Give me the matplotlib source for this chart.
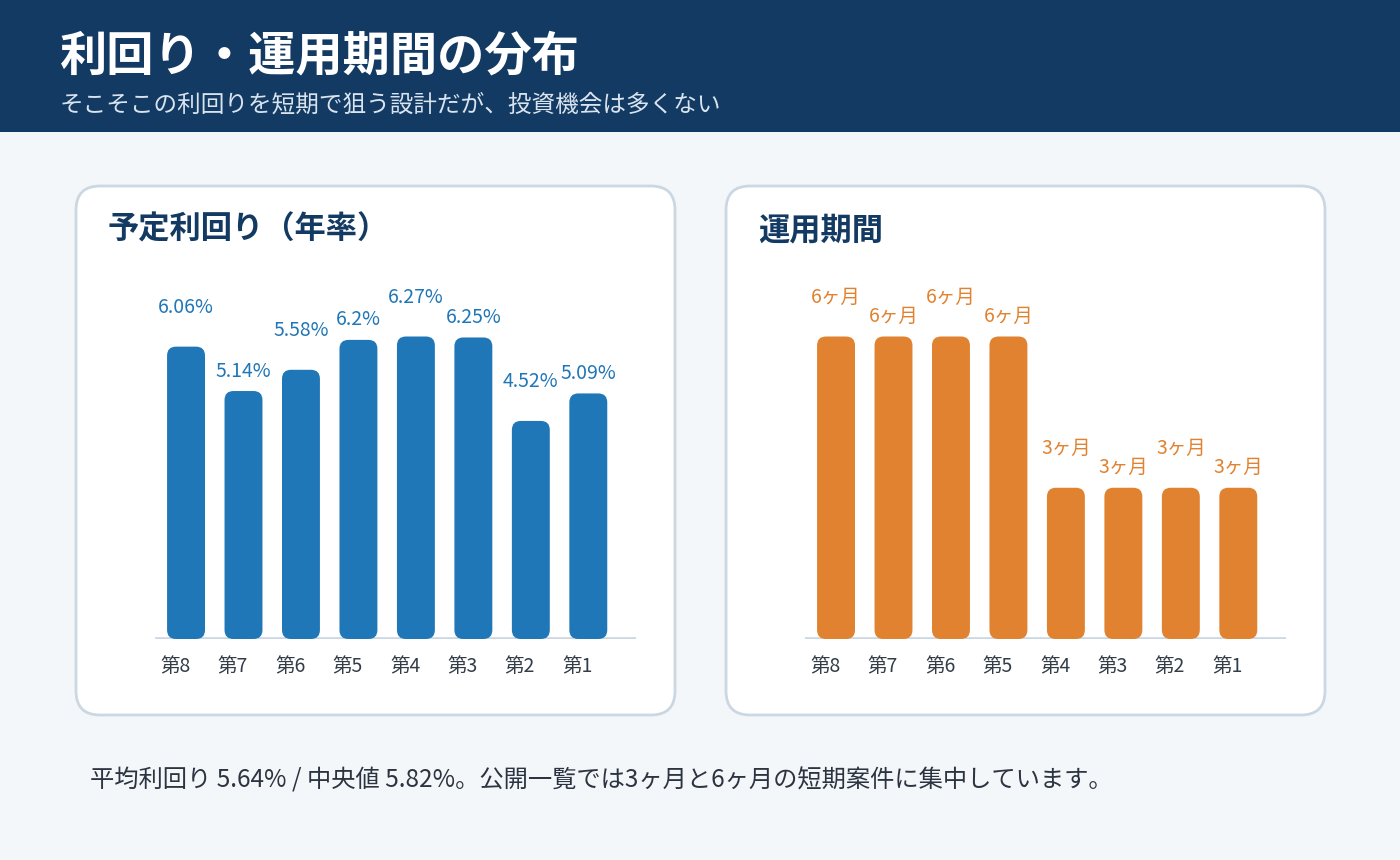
import matplotlib
matplotlib.use("Agg")
import matplotlib.pyplot as plt
from matplotlib.patches import FancyBboxPatch, Rectangle

plt.rcParams["font.family"] = ["Noto Sans CJK JP", "DejaVu Sans"]

# data
rounds = ["第8", "第7", "第6", "第5", "第4", "第3", "第2", "第1"]
yields = [6.06, 5.14, 5.58, 6.2, 6.27, 6.25, 4.52, 5.09]
yield_labels = ["6.06%", "5.14%", "5.58%", "6.2%", "6.27%", "6.25%", "4.52%", "5.09%"]
months = [6, 6, 6, 6, 3, 3, 3, 3]
month_labels = ["6ヶ月"] * 4 + ["3ヶ月"] * 4

title = "利回り・運用期間の分布"
subtitle = "そこそこの利回りを短期で狙う設計だが、投資機会は多くない"
footer = "平均利回り 5.64% / 中央値 5.82%。公開一覧では3ヶ月と6ヶ月の短期案件に集中しています。"

W, H = 1400, 860
NAVY = "#133a63"
BG = "#f4f7fa"
BORDER = "#cbd7e3"
BLUE = "#2077b8"
ORANGE = "#e0822f"

fig = plt.figure(figsize=(W / 100, H / 100), dpi=100)
fig.patch.set_facecolor(BG)

# pixel-space background layer
bg = fig.add_axes([0, 0, 1, 1])
bg.set_xlim(0, W)
bg.set_ylim(H, 0)
bg.axis("off")
bg.add_patch(Rectangle((0, 0), W, 132, color=NAVY, lw=0))
bg.text(60, 56, title, color="white", fontsize=34, fontweight="bold", va="center")
bg.text(60, 105, subtitle, color="#d9e4ef", fontsize=17, va="center")
for cx, ctitle in [(76, "予定利回り（年率）"), (726, "運用期間")]:
    bg.add_patch(FancyBboxPatch((cx, 186), 599, 529,
                                boxstyle="round,pad=0,rounding_size=24",
                                fc="white", ec=BORDER, lw=2))
    bg.text(cx + 32, 230, ctitle, color=NAVY, fontsize=22.5, fontweight="bold", va="center")
bg.text(90, 781, footer, color="#2b3440", fontsize=17.5, va="center")


def bar_panel(left_px, values, labels, color):
    base_px, height_px, width_px = 639, 363, 481
    ax = fig.add_axes([left_px / W, (H - base_px) / H, width_px / W, height_px / H])
    ax.set_xlim(-0.54, 7.83)
    ax.set_ylim(0, max(values) * 1.2)
    ax.axis("off")
    ax.axhline(0, color=BORDER, lw=2.6, zorder=1)
    bars = ax.bar(range(len(values)), values, width=0.66, color=color)
    # swap the plain rectangles for rounded ones
    x_per_px = (ax.get_xlim()[1] - ax.get_xlim()[0]) / width_px
    y_per_px = (ax.get_ylim()[1] - ax.get_ylim()[0]) / height_px
    for rect in bars:
        rect.set_visible(False)
        ax.add_patch(FancyBboxPatch((rect.get_x(), rect.get_y()), rect.get_width(), rect.get_height(),
                                    boxstyle=f"round,pad=0,rounding_size={9 * x_per_px}",
                                    mutation_aspect=y_per_px / x_per_px,
                                    fc=color, ec="none", zorder=2))
    for i, (v, lab) in enumerate(zip(values, labels)):
        ax.annotate(lab, xy=(i, v), xytext=(0, 39 if i % 2 == 0 else 20),
                    textcoords="offset pixels", ha="center", va="center",
                    color=color, fontsize=14, annotation_clip=False)
        ax.annotate(rounds[i], xy=(i, 0), xytext=(-26, -27), textcoords="offset pixels",
                    ha="left", va="center", color="#333d48", fontsize=14,
                    annotation_clip=False)
    return ax


bar_panel(155, yields, yield_labels, BLUE)
bar_panel(805, months, month_labels, ORANGE)

fig.savefig("out.png", dpi=100, facecolor=BG)
